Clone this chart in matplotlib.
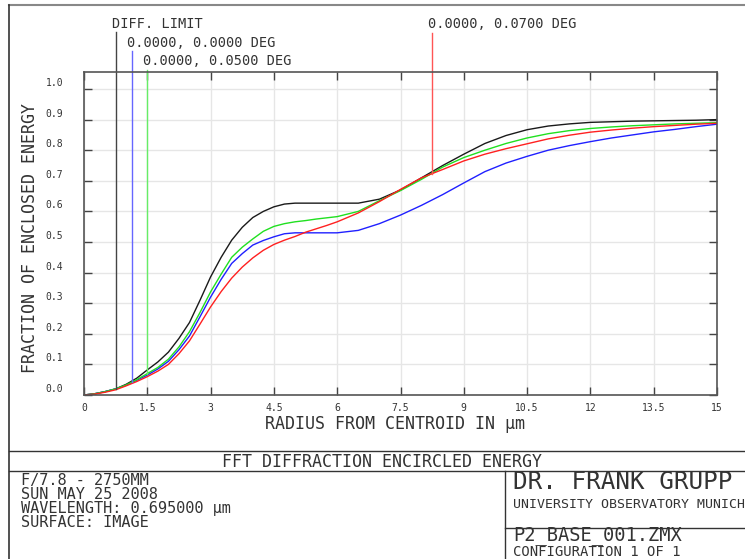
import matplotlib
matplotlib.use("Agg")
import matplotlib.pyplot as plt
import matplotlib.transforms as mtransforms
import numpy as np

plt.rcParams['font.family'] = ['DejaVu Sans Mono', 'DejaVu Sans']

# Data: fraction of enclosed energy vs radius (micrometres)
radius = [0, 0.25, 0.5, 0.75, 1.0, 1.25, 1.5, 1.75, 2.0, 2.25, 2.5, 2.75, 3.0,
          3.25, 3.5, 3.75, 4.0, 4.25, 4.5, 4.75, 5.0, 5.25, 5.5, 5.75, 6.0,
          6.5, 7.0, 7.5, 8.0, 8.5, 9.0, 9.5, 10.0, 10.5, 11.0, 11.5, 12.0,
          12.5, 13.0, 13.5, 14.0, 14.5, 15.0]
diff_limit = [0, 0.004, 0.011, 0.02, 0.035, 0.055, 0.082, 0.108, 0.14, 0.185,
              0.237, 0.31, 0.386, 0.45, 0.506, 0.548, 0.58, 0.60, 0.615, 0.624,
              0.627, 0.627, 0.627, 0.627, 0.627, 0.627, 0.64, 0.67, 0.71, 0.75,
              0.787, 0.822, 0.848, 0.867, 0.879, 0.886, 0.891, 0.893, 0.895,
              0.896, 0.897, 0.898, 0.90]
field_000 = [0, 0.004, 0.011, 0.02, 0.032, 0.048, 0.065, 0.085, 0.11, 0.148,
             0.193, 0.256, 0.32, 0.378, 0.43, 0.462, 0.49, 0.505, 0.517, 0.527,
             0.53, 0.53, 0.53, 0.53, 0.53, 0.538, 0.56, 0.588, 0.62, 0.655,
             0.693, 0.73, 0.758, 0.78, 0.80, 0.815, 0.828, 0.84, 0.85, 0.86,
             0.868, 0.877, 0.885]
field_050 = [0, 0.004, 0.011, 0.02, 0.033, 0.05, 0.07, 0.09, 0.117, 0.157,
             0.207, 0.27, 0.337, 0.395, 0.45, 0.483, 0.51, 0.535, 0.551, 0.56,
             0.566, 0.57, 0.575, 0.579, 0.583, 0.60, 0.635, 0.668, 0.705,
             0.745, 0.776, 0.80, 0.822, 0.84, 0.854, 0.864, 0.871, 0.876,
             0.88, 0.883, 0.886, 0.888, 0.89]
field_070 = [0, 0.003, 0.009, 0.017, 0.03, 0.044, 0.06, 0.078, 0.1, 0.135,
             0.177, 0.232, 0.288, 0.338, 0.382, 0.418, 0.448, 0.473, 0.492,
             0.506, 0.518, 0.532, 0.543, 0.554, 0.566, 0.595, 0.632, 0.672,
             0.71, 0.737, 0.765, 0.787, 0.805, 0.821, 0.837, 0.849, 0.859, 0.866,
             0.872, 0.877, 0.881, 0.885, 0.888]

# marker radii (airy radius for each curve) and their labels
marker_r = [0.76, 1.14, 1.49, 8.25]
marker_labels = ['DIFF. LIMIT', '0.0000, 0.0000 DEG', '0.0000, 0.0500 DEG',
                 '0.0000, 0.0700 DEG']
marker_top = [1.186, 1.124, 1.062, 1.183]
label_x = [0.66, 1.02, 1.40, 8.15]
label_y = [1.212, 1.150, 1.092, 1.212]

x_ticks = [0, 1.5, 3, 4.5, 6, 7.5, 9, 10.5, 12, 13.5, 15]
x_ticklabels = ['0', '1.5', '3', '4.5', '6', '7.5', '9', '10.5', '12', '13.5', '15']
y_ticks = [0.0, 0.1, 0.2, 0.3, 0.4, 0.5, 0.6, 0.7, 0.8, 0.9, 1.0]

series = [diff_limit, field_000, field_050, field_070]
curve_colors = ['#1a1a1a', '#2020ff', '#20e020', '#ff2020']
marker_colors = ['#444444', '#6666ff', '#66ee66', '#ff5555']

W, H = 745, 559
fig = plt.figure(figsize=(W / 100, H / 100), dpi=100)

ax = fig.add_axes([84 / W, (H - 395) / H, (717 - 84) / W, (395 - 72) / H])
ax.set_xlim(0, 15)
ax.set_ylim(0, 1.0556)

ax.grid(True, color='#e6e6e6', linewidth=1)
ax.set_axisbelow(True)

for ys, c in zip(series, curve_colors):
    ax.plot(radius, ys, color=c, linewidth=1)

for r, ys, top, c in zip(marker_r, series, marker_top, marker_colors):
    bottom = np.interp(r, radius, ys)
    ax.plot([r, r], [bottom, top], color=c, linewidth=1, clip_on=False)

for lx, ly, txt in zip(label_x, label_y, marker_labels):
    ax.text(lx, ly, txt, fontsize=9.8, color='#333333', ha='left',
            va='center', clip_on=False)

ax.set_xticks(x_ticks)
ax.set_xticklabels(x_ticklabels)
ax.set_yticks(y_ticks)
ax.set_yticklabels(['%.1f' % v for v in y_ticks])
ax.tick_params(direction='in', length=5.5, width=1, color='#444444',
               top=True, right=True, labelsize=7, labelcolor='#333333')
ax.tick_params(axis='x', pad=5.5)
ax.tick_params(axis='y', pad=15)

# y tick labels sit a little above their ticks
shift = mtransforms.ScaledTranslation(0, 7 / 100, fig.dpi_scale_trans)
for lab in ax.get_yticklabels():
    lab.set_transform(lab.get_transform() + shift)

for s in ax.spines.values():
    s.set_color('#555555')
    s.set_linewidth(1.2)

fig.text(395 / W, 1 - 424 / H, 'RADIUS FROM CENTROID IN µm', fontsize=12,
         ha='center', va='center', color='#333333')
fig.text(30 / W, 1 - 238 / H, 'FRACTION OF ENCLOSED ENERGY', fontsize=12,
         ha='center', va='center', rotation=90, color='#333333')

# frame and title block, drawn on an overlay in pixel units
ov = fig.add_axes([0, 0, 1, 1], facecolor='none')
ov.set_xlim(0, W)
ov.set_ylim(H, 0)
ov.axis('off')
ov.plot([9, W], [5, 5], color='#888888', linewidth=1.5)
ov.plot([9, 9], [5, H], color='#333333', linewidth=1.2)
ov.plot([9, W], [451, 451], color='#333333', linewidth=1)
ov.plot([9, W], [471, 471], color='#333333', linewidth=1)
ov.plot([505, 505], [471, H], color='#333333', linewidth=1)
ov.plot([505, W], [528, 528], color='#333333', linewidth=1)

ov.text(382, 462, 'FFT DIFFRACTION ENCIRCLED ENERGY', fontsize=12,
        ha='center', va='center', color='#333333')
left_lines = ['F/7.8 - 2750MM', 'SUN MAY 25 2008',
              'WAVELENGTH: 0.695000 µm', 'SURFACE: IMAGE']
for i, t in enumerate(left_lines):
    ov.text(21, 481 + i * 13.8, t, fontsize=11, ha='left', va='center',
            color='#333333')
ov.text(513, 482, 'DR. FRANK GRUPP', fontsize=17.5, ha='left', va='center',
        color='#333333')
ov.text(513, 504, 'UNIVERSITY OBSERVATORY MUNICH', fontsize=9.5, ha='left',
        va='center', color='#333333')
ov.text(513, 540.5, 'P2_BASE_001.ZMX', fontsize=13.5, ha='left',
        va='baseline', color='#333333')
ov.text(513, 555.5, 'CONFIGURATION 1 OF 1', fontsize=10, ha='left',
        va='baseline', color='#333333')

fig.savefig('out.png', dpi=100)
